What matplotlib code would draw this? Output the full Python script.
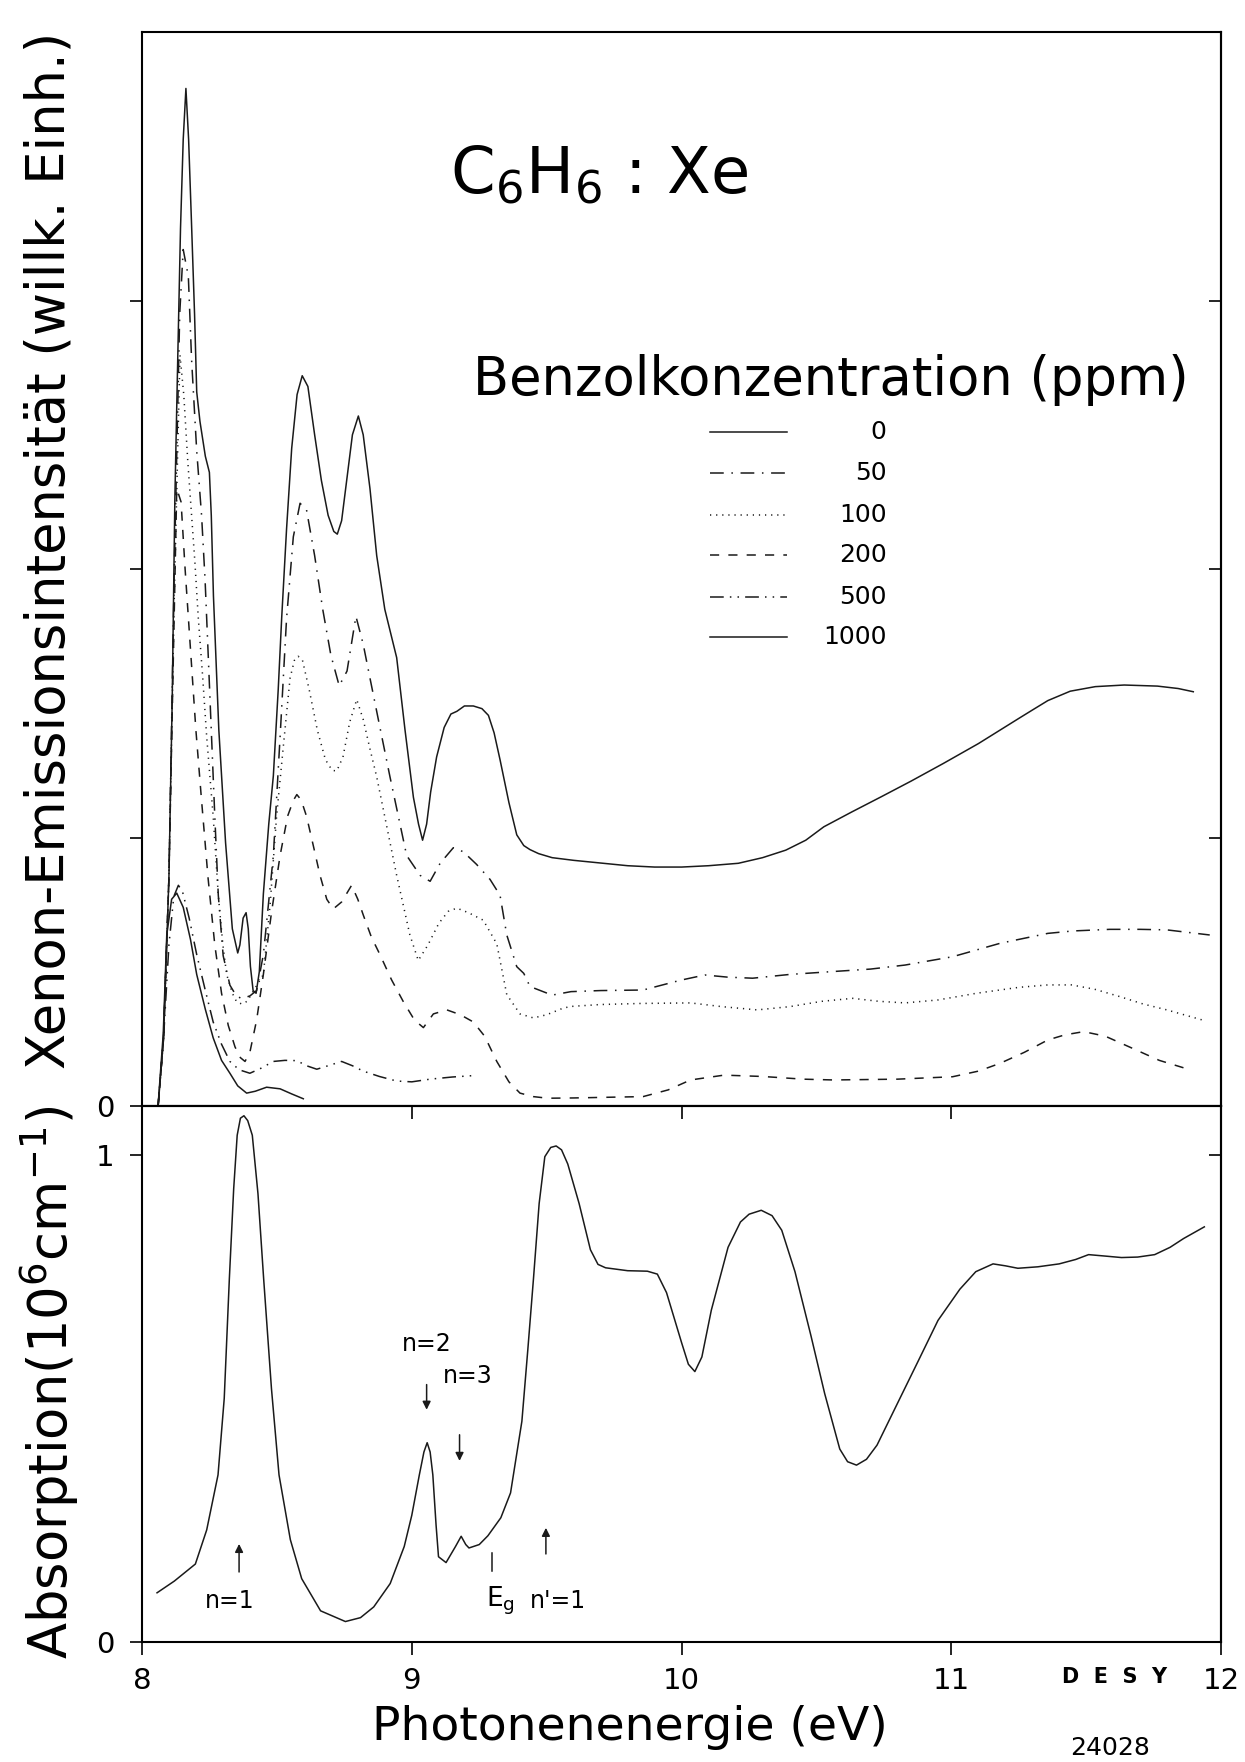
import matplotlib
matplotlib.use("Agg")
import matplotlib.pyplot as plt

plt.rcParams["font.family"] = ["DejaVu Sans"]
plt.rcParams["mathtext.fontset"] = "dejavusans"

FARBE = "#1a1a1a"

e0_x = [8.06, 8.08, 8.10, 8.112, 8.122, 8.132, 8.143, 8.153, 8.163, 8.173, 8.184, 8.195,
        8.203, 8.215, 8.235, 8.25, 8.257, 8.265, 8.285, 8.31, 8.335, 8.355, 8.363, 8.375,
        8.386, 8.394, 8.402, 8.412, 8.423, 8.435, 8.45, 8.47, 8.487, 8.505, 8.518, 8.536,
        8.555, 8.575, 8.594, 8.615, 8.64, 8.665, 8.69, 8.711, 8.724, 8.74, 8.76, 8.78,
        8.802, 8.82, 8.845, 8.87, 8.9, 8.944, 8.975, 9.006, 9.025, 9.04, 9.055, 9.07,
        9.092, 9.12, 9.145, 9.167, 9.195, 9.228, 9.26, 9.284, 9.305, 9.327, 9.36, 9.389,
        9.415, 9.438, 9.47, 9.52, 9.6, 9.7, 9.8, 9.9, 10.0, 10.1, 10.21, 10.3, 10.386,
        10.46, 10.527, 10.63, 10.74, 10.85, 10.97, 11.1, 11.25, 11.3, 11.357, 11.44,
        11.533, 11.64, 11.763, 11.84, 11.896]
e0_y = [0, 0.25, 0.85, 1.5, 2.26, 2.75, 3.27, 3.6, 3.79, 3.6, 3.28, 2.95,
        2.66, 2.55, 2.42, 2.36, 2.2, 1.9, 1.4, 0.98, 0.66, 0.57, 0.6, 0.7,
        0.72, 0.66, 0.52, 0.43, 0.42, 0.5, 0.79, 1.05, 1.23, 1.55, 1.82, 2.15,
        2.45, 2.65, 2.72, 2.68, 2.5, 2.33, 2.2, 2.14, 2.13, 2.18, 2.34, 2.5,
        2.57, 2.5, 2.3, 2.05, 1.85, 1.67, 1.4, 1.15, 1.05, 0.99, 1.05, 1.17,
        1.3, 1.41, 1.46, 1.47, 1.49, 1.49, 1.48, 1.455, 1.39, 1.29, 1.13, 1.01,
        0.97, 0.955, 0.94, 0.925, 0.915, 0.905, 0.895, 0.89, 0.89, 0.895, 0.904, 0.925, 0.953,
        0.99, 1.04, 1.095, 1.152, 1.21, 1.276, 1.35, 1.444, 1.475, 1.51, 1.545,
        1.562, 1.568, 1.564, 1.555, 1.543]

e50_x = [8.06, 8.08, 8.10, 8.12, 8.14, 8.153, 8.172, 8.184, 8.203, 8.221, 8.234, 8.246,
         8.258, 8.27, 8.283, 8.301, 8.326, 8.35, 8.37, 8.4, 8.425, 8.45, 8.487, 8.512,
         8.536, 8.561, 8.586, 8.61, 8.64, 8.67, 8.70, 8.731, 8.76, 8.793, 8.82, 8.845,
         8.88, 8.919, 8.95, 8.981, 9.031, 9.068, 9.105, 9.154, 9.191, 9.24, 9.29, 9.327,
         9.352, 9.389, 9.415, 9.438, 9.52, 9.59, 9.70, 9.857, 9.998, 10.086, 10.17, 10.263,
         10.4, 10.563, 10.7, 10.828, 11.004, 11.18, 11.357, 11.45, 11.587, 11.7, 11.798, 11.957]
e50_y = [0, 0.25, 0.85, 2.0, 2.95, 3.19, 3.09, 2.78, 2.44, 2.2, 1.96, 1.67,
         1.375, 1.08, 0.785, 0.56, 0.45, 0.41, 0.40, 0.41, 0.43, 0.564, 0.933, 1.375,
         1.816, 2.12, 2.245, 2.22, 2.05, 1.85, 1.68, 1.565, 1.62, 1.824, 1.72, 1.594,
         1.42, 1.227, 1.08, 0.933, 0.859, 0.837, 0.904, 0.962, 0.947, 0.9, 0.844, 0.785,
         0.637, 0.519, 0.494, 0.445, 0.413, 0.426, 0.43, 0.432, 0.469, 0.488, 0.48, 0.476,
         0.49, 0.501, 0.51, 0.525, 0.556, 0.606, 0.643, 0.652, 0.658, 0.658, 0.656, 0.637]

e100_x = [8.06, 8.08, 8.10, 8.12, 8.141, 8.155, 8.17, 8.184, 8.196, 8.209, 8.225, 8.24,
          8.264, 8.283, 8.3, 8.314, 8.335, 8.351, 8.37, 8.39, 8.42, 8.45, 8.475, 8.499,
          8.525, 8.549, 8.565, 8.579, 8.595, 8.62, 8.65, 8.68, 8.705, 8.722, 8.745, 8.77,
          8.796, 8.82, 8.845, 8.87, 8.944, 8.993, 9.024, 9.06, 9.1, 9.135, 9.167, 9.21,
          9.265, 9.315, 9.352, 9.401, 9.451, 9.5, 9.562, 9.592, 9.7, 9.85, 10.033, 10.15,
          10.28, 10.4, 10.52, 10.634, 10.73, 10.828, 10.95, 11.093, 11.25, 11.357, 11.445,
          11.53, 11.622, 11.71, 11.798, 11.931]
e100_y = [0, 0.25, 0.85, 1.9, 2.797, 2.65, 2.4, 2.2, 2.03, 1.816, 1.6, 1.375,
          1.079, 0.785, 0.6, 0.49, 0.42, 0.388, 0.38, 0.39, 0.44, 0.49, 0.75, 1.079,
          1.35, 1.594, 1.66, 1.675, 1.66, 1.55, 1.4, 1.29, 1.25, 1.248, 1.3, 1.43,
          1.514, 1.44, 1.33, 1.226, 0.859, 0.637, 0.542, 0.6, 0.68, 0.725, 0.737, 0.72,
          0.692, 0.604, 0.415, 0.343, 0.328, 0.34, 0.365, 0.371, 0.378, 0.382, 0.384, 0.37,
          0.358, 0.37, 0.39, 0.401, 0.39, 0.384, 0.395, 0.42, 0.442, 0.451, 0.451,
          0.435, 0.408, 0.38, 0.358, 0.32]

e200_x = [8.06, 8.08, 8.10, 8.115, 8.129, 8.145, 8.16, 8.18, 8.2, 8.22, 8.245, 8.27,
          8.295, 8.32, 8.345, 8.365, 8.382, 8.40, 8.425, 8.45, 8.48, 8.512, 8.54, 8.561,
          8.574, 8.59, 8.61, 8.635, 8.66, 8.685, 8.709, 8.74, 8.777, 8.8, 8.82, 8.85,
          8.882, 8.925, 8.969, 9.01, 9.043, 9.08, 9.13, 9.18, 9.228, 9.27, 9.315, 9.36,
          9.401, 9.45, 9.504, 9.6, 9.75, 9.857, 9.95, 10.033, 10.157, 10.3, 10.45, 10.563,
          10.8, 11.004, 11.1, 11.18, 11.27, 11.357, 11.42, 11.49, 11.57, 11.657, 11.77, 11.887]
e200_y = [0, 0.25, 0.85, 1.6, 2.3, 2.25, 2.0, 1.7, 1.4, 1.15, 0.85, 0.6,
          0.42, 0.3, 0.22, 0.18, 0.166, 0.2, 0.32, 0.49, 0.72, 0.933, 1.08, 1.138,
          1.16, 1.14, 1.079, 0.97, 0.859, 0.77, 0.734, 0.76, 0.822, 0.77, 0.712, 0.63,
          0.564, 0.47, 0.388, 0.32, 0.292, 0.343, 0.358, 0.34, 0.313, 0.26, 0.166, 0.09,
          0.048, 0.035, 0.029, 0.03, 0.033, 0.035, 0.06, 0.097, 0.115, 0.11, 0.1, 0.097,
          0.1, 0.109, 0.13, 0.159, 0.2, 0.246, 0.265, 0.277, 0.26, 0.221, 0.17, 0.134]

e500_x = [8.06, 8.08, 8.10, 8.118, 8.135, 8.15, 8.175, 8.203, 8.235, 8.264, 8.295, 8.326,
          8.36, 8.4, 8.44, 8.487, 8.53, 8.574, 8.61, 8.648, 8.69, 8.74, 8.78, 8.82,
          8.88, 8.944, 9.0, 9.068, 9.15, 9.24]
e500_y = [0, 0.25, 0.6, 0.78, 0.822, 0.8, 0.7, 0.564, 0.43, 0.313, 0.23, 0.166,
          0.135, 0.122, 0.14, 0.166, 0.17, 0.169, 0.15, 0.137, 0.15, 0.166, 0.15, 0.13,
          0.11, 0.093, 0.09, 0.1, 0.108, 0.114]

e1000_x = [8.06, 8.079, 8.092, 8.11, 8.129, 8.153, 8.18, 8.203, 8.235, 8.264, 8.295,
           8.326, 8.355, 8.388, 8.42, 8.462, 8.512, 8.555, 8.598]
e1000_y = [0.004, 0.269, 0.637, 0.77, 0.793, 0.74, 0.62, 0.49, 0.36, 0.254, 0.17,
           0.122, 0.075, 0.048, 0.055, 0.07, 0.064, 0.045, 0.027]

# --- Absorption (untere Kurve), 10^6 cm^-1 ---
abs_x = [8.056, 8.12, 8.198, 8.24, 8.282, 8.305, 8.324, 8.34, 8.353, 8.365, 8.378, 8.392,
         8.409, 8.43, 8.451, 8.48, 8.508, 8.55, 8.592, 8.662, 8.754, 8.81, 8.859, 8.92,
         8.972, 9.0, 9.028, 9.045, 9.057, 9.068, 9.078, 9.09, 9.099, 9.127, 9.162, 9.183,
         9.2, 9.212, 9.25, 9.282, 9.33, 9.366, 9.408, 9.43, 9.451, 9.472, 9.493, 9.515,
         9.535, 9.555, 9.578, 9.62, 9.662, 9.69, 9.718, 9.8, 9.873, 9.91, 9.944, 9.975,
         10.0, 10.025, 10.049, 10.075, 10.11, 10.172, 10.218, 10.25, 10.295, 10.335, 10.371,
         10.42, 10.479, 10.53, 10.586, 10.615, 10.648, 10.685, 10.724, 10.8, 10.877, 10.95,
         11.031, 11.09, 11.154, 11.2, 11.246, 11.32, 11.399, 11.46, 11.508, 11.57, 11.63,
         11.69, 11.753, 11.81, 11.86, 11.937]
abs_y = [0.101, 0.125, 0.16, 0.23, 0.343, 0.5, 0.746, 0.93, 1.04, 1.075, 1.08, 1.07,
         1.04, 0.92, 0.746, 0.52, 0.343, 0.21, 0.13, 0.064, 0.042, 0.05, 0.072, 0.12,
         0.196, 0.26, 0.343, 0.39, 0.409, 0.39, 0.343, 0.24, 0.175, 0.163, 0.196, 0.217,
         0.2, 0.193, 0.2, 0.218, 0.255, 0.306, 0.453, 0.6, 0.746, 0.9, 0.996, 1.015,
         1.018, 1.01, 0.981, 0.9, 0.805, 0.775, 0.768, 0.762, 0.761, 0.755, 0.717, 0.66,
         0.614, 0.57, 0.555, 0.585, 0.681, 0.81, 0.862, 0.878, 0.886, 0.875, 0.845,
         0.76, 0.629, 0.51, 0.396, 0.37, 0.363, 0.375, 0.404, 0.49, 0.577, 0.66,
         0.724, 0.76, 0.776, 0.772, 0.767, 0.77, 0.776, 0.785, 0.795, 0.792, 0.789,
         0.79, 0.795, 0.81, 0.828, 0.852]

KONZ = ["0", "50", "100", "200", "500", "1000"]
KURVEN = [(e0_x, e0_y), (e50_x, e50_y), (e100_x, e100_y),
          (e200_x, e200_y), (e500_x, e500_y), (e1000_x, e1000_y)]
STILE = ["-", (0, (9, 5, 1, 5)), (0, (0.8, 3.2)), (0, (6, 6)),
         (0, (9, 4, 1, 4, 1, 4)), "-"]

fig = plt.figure(figsize=(12.45, 17.62), dpi=100)
ax1 = fig.add_axes([0.114, 0.3723, 0.867, 0.6095])
ax2 = fig.add_axes([0.114, 0.0681, 0.867, 0.3042])

# %% obere Grafik
for (xs, ys), ls in zip(KURVEN, STILE):
    ax1.plot(xs, ys, color=FARBE, lw=1.1, ls=ls)

ax1.set_xlim(8, 12)
ax1.set_ylim(0, 4)
ax1.set_yticks([0, 1, 2, 3])
ax1.set_yticklabels(["0", "", "", ""])
ax1.tick_params(axis="y", direction="out", length=9, width=1.2, pad=11, labelsize=21)
ax1.tick_params(axis="x", bottom=False, labelbottom=False)
rechts1 = ax1.secondary_yaxis("right")
rechts1.set_yticks([1, 2, 3])
rechts1.tick_params(direction="in", length=9, width=1.2, labelright=False)

ax1.text(0.423, 0.867, r"C$_6$H$_6$ : Xe", transform=ax1.transAxes,
         fontsize=46, ha="center", va="center")
ax1.text(0.638, 0.676, "Benzolkonzentration (ppm)", transform=ax1.transAxes,
         fontsize=38, ha="center", va="center")

# Legende von Hand, wie im Original
leg_y = [0.628, 0.589, 0.550, 0.513, 0.474, 0.437]
for k, ls, yy in zip(KONZ, STILE, leg_y):
    ax1.plot([0.526, 0.598], [yy, yy], transform=ax1.transAxes,
             color=FARBE, lw=1.1, ls=ls)
    ax1.text(0.690, yy, k, transform=ax1.transAxes, fontsize=18,
             ha="right", va="center")

# %% untere Grafik
ax2.plot(abs_x, abs_y, color=FARBE, lw=1.1)
ax2.set_xlim(8, 12)
ax2.set_ylim(0, 1.1)
ax2.set_xticks([8, 9, 10, 11, 12])
ax2.set_yticks([0, 1])
ax2.tick_params(direction="out", length=9, width=1.2, labelsize=21)
ax2.tick_params(axis="x", pad=9)
ax2.tick_params(axis="y", pad=11)
oben2 = ax2.secondary_xaxis("top")
oben2.set_xticks([9, 10, 11])
oben2.tick_params(direction="in", length=9, width=1.2, labeltop=False)
rechts2 = ax2.secondary_yaxis("right")
rechts2.set_yticks([1])
rechts2.tick_params(direction="in", length=9, width=1.2, labelright=False)

pfeil = dict(arrowstyle="-|>", lw=1.1, color=FARBE, mutation_scale=12)
ax2.annotate("", xy=(8.36, 0.207), xytext=(8.36, 0.138), arrowprops=pfeil)
ax2.text(8.324, 0.085, "n=1", fontsize=17, ha="center", va="center")
ax2.annotate("", xy=(9.055, 0.471), xytext=(9.055, 0.534), arrowprops=pfeil)
ax2.text(9.057, 0.611, "n=2", fontsize=17, ha="center", va="center")
ax2.annotate("", xy=(9.177, 0.366), xytext=(9.177, 0.431), arrowprops=pfeil)
ax2.text(9.207, 0.545, "n=3", fontsize=17, ha="center", va="center")
ax2.plot([9.296, 9.296], [0.146, 0.183], color=FARBE, lw=1.1)
ax2.text(9.33, 0.085, r"E$_\mathregular{g}$", fontsize=19, ha="center", va="center")
ax2.annotate("", xy=(9.497, 0.24), xytext=(9.497, 0.175), arrowprops=pfeil)
ax2.text(9.54, 0.085, "n'=1", fontsize=17, ha="center", va="center")

for ax in (ax1, ax2, rechts1, rechts2, oben2):
    for sp in ax.spines.values():
        sp.set_linewidth(1.5)
        sp.set_color("black")

# %% Achsentitel
fig.text(0.040, 0.6876, "Xenon-Emissionsintensität (willk. Einh.)", rotation=90,
         fontsize=38, ha="center", va="center")
fig.text(0.040, 0.2157, r"Absorption(10$^6$cm$^{-1}$)", rotation=90,
         fontsize=38, ha="center", va="center")
fig.text(0.5056, 0.0125, "Photonenenergie (eV)", fontsize=34, ha="center", va="baseline")
fig.text(0.895, 0.048, "D  E  S  Y", fontsize=15, fontweight="bold",
         ha="center", va="center")
fig.text(0.8916, 0.0079, "24028", fontsize=18, ha="center", va="center")

fig.savefig("out.png", dpi=100, facecolor="white")
